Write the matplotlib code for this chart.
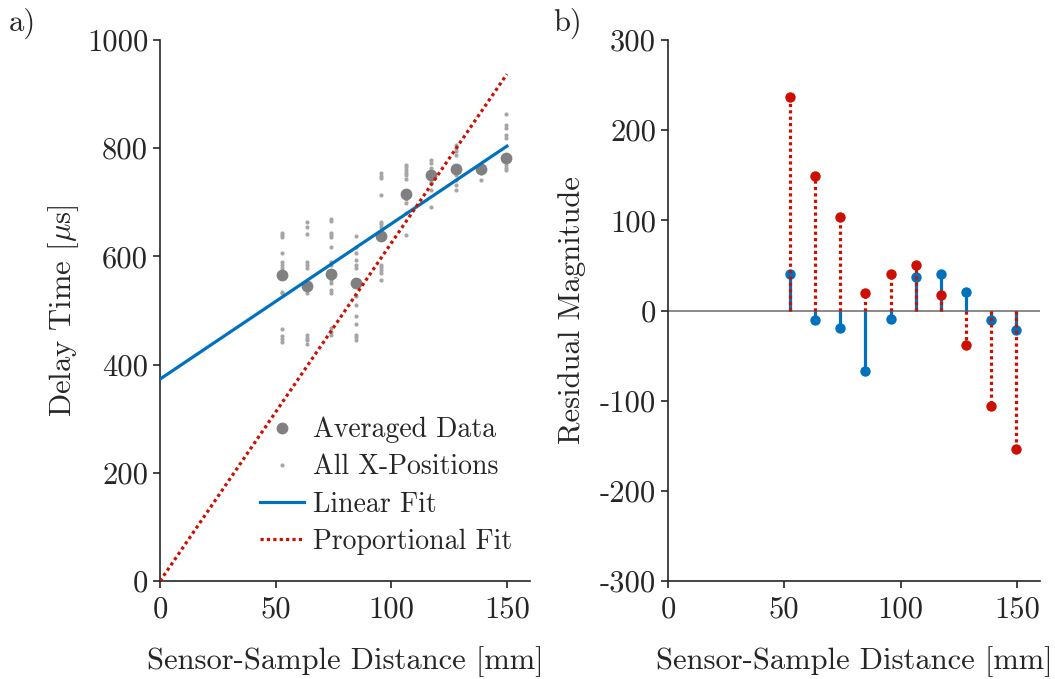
import numpy as np
import matplotlib
matplotlib.use("Agg")
import matplotlib.pyplot as plt

plt.rcParams['font.family'] = ['cmr10', 'DejaVu Serif']
plt.rcParams['mathtext.fontset'] = 'cm'
plt.rcParams['axes.unicode_minus'] = False

# sensor-sample distances [mm]
distance = [52.6, 63.4, 74.1, 84.9, 95.7, 106.5, 117.3, 128.0, 138.8, 149.6]

# averaged delay time [us]
averaged = [565, 545, 567, 550, 638, 716, 750, 761, 761, 781]

# delay time at every x-position, one list per distance
all_positions = [
    [644, 640, 636, 607, 589, 584, 579, 535, 532, 466, 452, 447, 442],
    [664, 655, 641, 590, 584, 578, 533, 455, 450, 446, 439],
    [670, 666, 643, 640, 636, 618, 590, 584, 556, 550, 538, 533, 467, 461, 455],
    [638, 618, 606, 593, 584, 578, 526, 510, 489, 475, 455, 451, 446],
    [754, 749, 744, 714, 664, 660, 655, 584, 580, 575, 570, 556],
    [769, 765, 760, 755, 751, 743, 707, 698, 680, 640],
    [778, 772, 763, 757, 754, 747, 738, 735, 723, 692],
    [806, 800, 794, 787, 751, 741, 732, 723],
    [765, 760, 755, 741],
    [863, 843, 837, 824, 818, 769, 763, 760],
]

BLUE = '#0072BD'
RED = '#CC0F00'
GRAY = '#808080'
LIGHT = '#A6A6A6'
AX = '#262626'
FS = 22

x = np.array(distance, dtype=float)
y = np.array(averaged, dtype=float)

# linear fit and proportional (through origin) fit
slope, intercept = np.polyfit(x, y, 1)
k = np.sum(x * y) / np.sum(x * x)
res_lin = y - (slope * x + intercept)
res_prop = y - k * x

fig = plt.figure(figsize=(10.55, 6.79), dpi=100)
ax1 = fig.add_axes([0.1517, 0.1443, 0.3507, 0.7968])
ax2 = fig.add_axes([0.6332, 0.1443, 0.3526, 0.7968])

# ---- a) delay time ----
xs_all = [d for d, vals in zip(distance, all_positions) for _ in vals]
ys_all = [v for vals in all_positions for v in vals]

ax1.plot(x, y, 'o', color=GRAY, ms=8.5, mec='none', label='Averaged Data', zorder=3)
ax1.plot(xs_all, ys_all, 'o', color=LIGHT, ms=3, mec='none', label='All X-Positions', zorder=2)
xf = np.array([0, 150])
ax1.plot(xf, slope * xf + intercept, '-', color=BLUE, lw=2.3, label='Linear Fit', zorder=4)
ax1.plot(xf, k * xf, color=RED, lw=2.3, ls=(0, (1, 1.0)), label='Proportional Fit', zorder=4)

ax1.set_xlim(0, 160)
ax1.set_ylim(0, 1000)
ax1.set_xticks([0, 50, 100, 150])
ax1.set_yticks([0, 200, 400, 600, 800, 1000])
ax1.set_xlabel('Sensor-Sample Distance [mm]', fontsize=FS, color=AX, labelpad=16)
ax1.set_ylabel(r'Delay Time [$\mu$s]', fontsize=FS, color=AX)
leg = ax1.legend(loc='lower right', frameon=False, fontsize=20, handlelength=1.6,
                 handletextpad=0.3, labelspacing=0.39, borderaxespad=0.0,
                 bbox_to_anchor=(0.981, 0.028))
for t in leg.get_texts():
    t.set_color(AX)

# ---- b) residuals ----
ax2.axhline(0, color=GRAY, lw=1.3, zorder=1)
ax2.vlines(x, 0, res_lin, color=BLUE, lw=2.3, zorder=2)
ax2.plot(x, res_lin, 'o', color=BLUE, ms=7.5, mec='none', zorder=3)
ax2.vlines(x, 0, res_prop, color=RED, lw=2.3, linestyles=[(0, (1, 1.0))], zorder=4)
ax2.plot(x, res_prop, 'o', color=RED, ms=7.5, mec='none', zorder=5)

ax2.set_xlim(0, 160)
ax2.set_ylim(-300, 300)
ax2.set_xticks([0, 50, 100, 150])
ax2.set_yticks(range(-300, 301, 100))
ax2.set_xlabel('Sensor-Sample Distance [mm]', fontsize=FS, color=AX, labelpad=16)
ax2.set_ylabel('Residual Magnitude', fontsize=FS, color=AX, labelpad=10)

for ax in (ax1, ax2):
    ax.spines['top'].set_visible(False)
    ax.spines['right'].set_visible(False)
    for s in ('left', 'bottom'):
        ax.spines[s].set_color(AX)
        ax.spines[s].set_linewidth(1.2)
    ax.tick_params(direction='out', length=5, width=1.2, colors=AX, labelsize=FS)
    ax.tick_params(axis='x', pad=6)

fig.text(0.008, 0.965, 'a)', fontsize=FS, color=AX, va='center')
fig.text(0.524, 0.965, 'b)', fontsize=FS, color=AX, va='center')

fig.savefig('out.png', dpi=100, facecolor='white')
